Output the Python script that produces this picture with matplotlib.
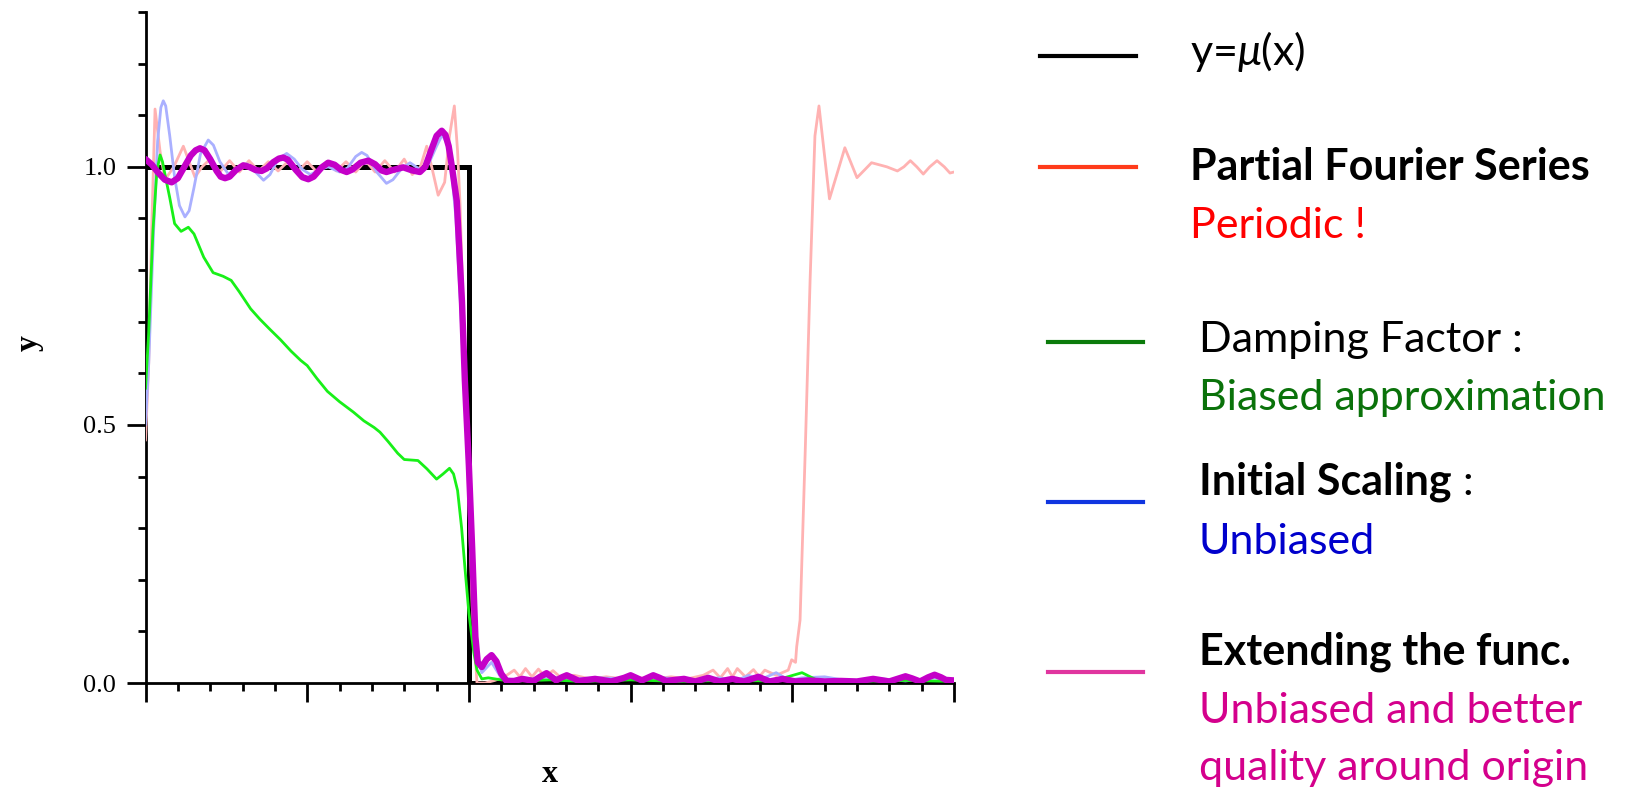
import matplotlib
matplotlib.use("Agg")
import numpy as np
import matplotlib.pyplot as plt
from matplotlib.lines import Line2D
from matplotlib.ticker import MultipleLocator, FixedLocator, FormatStrFormatter

# ---------------- data ----------------
mu_x = [0.0, 2.0, 2.0, 5.0]
mu_y = [1.0, 1.0, 0.0, 0.0]

fourier_x = [0.0, 0.02, 0.038, 0.059, 0.09, 0.12, 0.175, 0.234, 0.27, 0.306, 0.35, 0.40,
             0.46, 0.52, 0.58, 0.64, 0.70, 0.76, 0.82, 0.88, 0.94, 1.00, 1.06, 1.12,
             1.18, 1.24, 1.30, 1.36, 1.42, 1.48, 1.54, 1.60, 1.65, 1.70, 1.739, 1.77,
             1.81, 1.85, 1.88, 1.91, 1.93, 1.945, 1.965, 1.99, 2.02, 2.05, 2.10, 2.16,
             2.22, 2.28, 2.315, 2.35, 2.39, 2.43, 2.47, 2.52, 2.57, 2.65, 2.75, 2.85,
             2.95, 3.05, 3.15, 3.25, 3.35, 3.45, 3.51, 3.555, 3.60, 3.63, 3.66, 3.71,
             3.76, 3.795, 3.83, 3.90, 3.975, 3.996, 4.02, 4.027, 4.048, 4.08, 4.11,
             4.14, 4.165, 4.20, 4.23, 4.28, 4.325, 4.36, 4.40, 4.45, 4.49, 4.585,
             4.65, 4.69, 4.73, 4.77, 4.81, 4.85, 4.895, 4.94, 4.975, 5.0]
fourier_y = [0.47, 0.62, 0.876, 1.112, 1.03, 0.975, 1.0, 1.04, 1.01, 0.98, 1.0, 1.015,
             0.99, 1.012, 0.99, 1.012, 0.992, 1.01, 0.992, 1.01, 0.99, 1.01, 0.99, 1.01,
             0.992, 1.01, 0.99, 1.012, 0.99, 1.012, 0.99, 1.015, 0.985, 1.0, 1.04, 1.0,
             0.945, 0.97, 1.06, 1.118, 1.03, 0.93, 0.72, 0.45, 0.15, 0.0, 0.0, 0.005,
             0.012, 0.025, 0.012, 0.028, 0.012, 0.027, 0.012, 0.024, 0.01, 0.015, 0.008, 0.012,
             0.008, 0.01, 0.008, 0.012, 0.008, 0.015, 0.025, 0.01, 0.028, 0.012, 0.028, 0.012,
             0.026, 0.012, 0.025, 0.015, 0.025, 0.045, 0.04, 0.07, 0.122, 0.45, 0.78,
             1.06, 1.118, 1.02, 0.938, 0.99, 1.037, 1.01, 0.979, 0.995, 1.008, 1.0,
             0.992, 1.0, 1.012, 1.0, 0.986, 1.0, 1.012, 1.0, 0.988, 0.99]

scaling_x = [0.0, 0.02, 0.05, 0.075, 0.095, 0.11, 0.125, 0.15, 0.18, 0.21, 0.244, 0.27,
             0.30, 0.34, 0.388, 0.42, 0.46, 0.512, 0.56, 0.626, 0.68, 0.73, 0.77, 0.82,
             0.873, 0.92, 0.97, 1.02, 1.08, 1.13, 1.20, 1.25, 1.30, 1.337, 1.37, 1.43,
             1.49, 1.53, 1.58, 1.636, 1.697, 1.75, 1.80, 1.835, 1.865, 1.89, 1.92, 1.95,
             1.975, 2.0, 2.02, 2.05, 2.08, 2.14, 2.20, 2.30, 2.50, 2.62, 2.80, 3.00,
             3.20, 3.40, 3.55, 3.65, 3.73, 3.80, 3.90, 3.98, 4.06, 4.20, 4.35, 4.55,
             4.70, 4.88, 5.0]
scaling_y = [0.5, 0.62, 0.876, 1.05, 1.115, 1.128, 1.118, 1.06, 0.98, 0.925, 0.903, 0.915,
             0.96, 1.025, 1.052, 1.042, 1.01, 0.986, 0.996, 1.006, 0.99, 0.974, 0.985, 1.015,
             1.026, 1.015, 0.995, 0.985, 0.995, 1.0, 0.99, 0.998, 1.02, 1.028, 1.022, 0.99,
             0.968, 0.975, 0.995, 1.008, 0.995, 1.005, 1.04, 1.062, 1.045, 1.0, 0.9, 0.72,
             0.55, 0.38, 0.22, 0.05, 0.02, 0.04, 0.01, 0.005, 0.012, 0.008, 0.01, 0.008,
             0.01, 0.006, 0.01, 0.004, 0.015, 0.006, 0.02, 0.005, 0.01, 0.012, 0.004, 0.008,
             0.004, 0.01, 0.004]

damping_x = [0.0, 0.02, 0.046, 0.07, 0.09, 0.105, 0.12, 0.15, 0.18, 0.22, 0.265, 0.30,
             0.36, 0.418, 0.48, 0.53, 0.58, 0.65, 0.707, 0.77, 0.835, 0.90, 0.96, 1.0,
             1.06, 1.125, 1.20, 1.285, 1.35, 1.414, 1.45, 1.50, 1.56, 1.60, 1.685, 1.74,
             1.80, 1.84, 1.88, 1.905, 1.93, 1.955, 1.975, 2.0, 2.03, 2.05, 2.08, 2.12,
             2.20, 2.30, 2.50, 2.70, 3.00, 3.30, 3.60, 3.85, 3.95, 4.06, 4.15, 4.40,
             4.70, 5.0]
damping_y = [0.57, 0.68, 0.876, 0.99, 1.023, 1.01, 0.986, 0.94, 0.89, 0.875, 0.883, 0.87,
             0.825, 0.795, 0.788, 0.78, 0.758, 0.725, 0.705, 0.685, 0.665, 0.643, 0.625, 0.615,
             0.59, 0.565, 0.545, 0.525, 0.508, 0.495, 0.486, 0.468, 0.445, 0.433, 0.431, 0.415,
             0.395, 0.405, 0.416, 0.405, 0.373, 0.30, 0.225, 0.135, 0.06, 0.025, 0.008, 0.01,
             0.006, 0.004, 0.006, 0.003, 0.006, 0.003, 0.005, 0.004, 0.01, 0.02, 0.006, 0.003,
             0.005, 0.003]

extend_x = [0.0, 0.04, 0.08, 0.12, 0.162, 0.20, 0.24, 0.28, 0.31, 0.337, 0.365, 0.40,
            0.44, 0.465, 0.492, 0.52, 0.56, 0.605, 0.64, 0.68, 0.718, 0.75, 0.79, 0.825,
            0.852, 0.88, 0.93, 0.97, 1.007, 1.04, 1.09, 1.13, 1.17, 1.21, 1.244, 1.28,
            1.33, 1.378, 1.42, 1.46, 1.49, 1.53, 1.594, 1.65, 1.697, 1.73, 1.77, 1.80,
            1.832, 1.855, 1.875, 1.895, 1.925, 1.957, 1.975, 2.0, 2.02, 2.04, 2.055, 2.08,
            2.11, 2.14, 2.17, 2.20, 2.233, 2.28, 2.33, 2.40, 2.44, 2.48, 2.51, 2.54,
            2.575, 2.605, 2.64, 2.68, 2.78, 2.88, 2.96, 3.0, 3.035, 3.07, 3.105, 3.14,
            3.18, 3.22, 3.33, 3.40, 3.48, 3.55, 3.63, 3.70, 3.79, 3.86, 3.94, 4.02,
            4.10, 4.20, 4.30, 4.40, 4.50, 4.60, 4.66, 4.70, 4.74, 4.79, 4.84, 4.88,
            4.92, 4.95, 5.0]
extend_y = [1.015, 1.004, 0.988, 0.975, 0.970, 0.978, 1.0, 1.022, 1.032, 1.036, 1.032, 1.015,
            0.992, 0.981, 0.978, 0.981, 0.994, 1.003, 1.0, 0.994, 0.992, 0.997, 1.009, 1.016,
            1.018, 1.014, 0.994, 0.98, 0.976, 0.981, 0.999, 1.008, 1.004, 0.994, 0.990, 0.995,
            1.008, 1.012, 1.005, 0.993, 0.99, 0.994, 0.999, 0.993, 0.99, 1.0, 1.035, 1.06,
            1.07, 1.062, 1.04, 1.0, 0.934, 0.74, 0.586, 0.42, 0.263, 0.09, 0.04, 0.031,
            0.046, 0.054, 0.042, 0.018, 0.004, 0.004, 0.008, 0.004, 0.012, 0.019, 0.012, 0.005,
            0.011, 0.015, 0.01, 0.004, 0.008, 0.003, 0.01, 0.015, 0.01, 0.005, 0.01, 0.015,
            0.01, 0.004, 0.008, 0.003, 0.01, 0.003, 0.008, 0.003, 0.012, 0.003, 0.008, 0.003,
            0.005, 0.003, 0.004, 0.003, 0.008, 0.003, 0.009, 0.013, 0.009, 0.003, 0.011, 0.016,
            0.011, 0.006, 0.005]

y_ticks = [0.0, 0.5, 1.0]

legend_labels = ["y=$\\mu$(x)", "Partial Fourier Series", "Periodic !", "Damping Factor :",
                 "Biased approximation", "Initial Scaling", " :", "Unbiased",
                 "Extending the func.", "Unbiased and better", "quality around origin"]

# ---------------- figure ----------------
W, H = 1630, 789
plt.rcParams['mathtext.fontset'] = 'custom'
plt.rcParams['mathtext.rm'] = 'Lato'
plt.rcParams['mathtext.it'] = 'Lato:italic'
fig = plt.figure(figsize=(W / 100, H / 100), dpi=100)
ax = fig.add_axes([145.5 / W, 1 - 683 / H, (954 - 145.5) / W, (683 - 12) / H])

kw = dict(solid_joinstyle='round', solid_capstyle='round')
ax.plot(mu_x, mu_y, color='black', lw=3.6, zorder=3, solid_joinstyle='miter')
ax.plot(fourier_x, fourier_y, color='#ffb2b2', lw=2.0, zorder=4, **kw)
ax.plot(scaling_x, scaling_y, color='#aab0ff', lw=2.0, zorder=5, **kw)
ax.plot(damping_x, damping_y, color='#18f018', lw=2.0, zorder=6, **kw)
ax.plot(extend_x, extend_y, color='#c400c8', lw=4.6, zorder=7, **kw)

ax.set_xlim(0, 5)
ax.set_ylim(0, 1.3)
for s in ['top', 'right']:
    ax.spines[s].set_visible(False)
for s in ['left', 'bottom']:
    ax.spines[s].set_linewidth(2.0)

ax.xaxis.set_major_locator(MultipleLocator(1))
ax.xaxis.set_minor_locator(MultipleLocator(0.2))
ax.set_xticklabels([])
ax.yaxis.set_major_locator(FixedLocator(y_ticks))
ax.yaxis.set_minor_locator(FixedLocator(np.arange(0, 14) / 10))
ax.yaxis.set_major_formatter(FormatStrFormatter('%.1f'))
ax.tick_params(which='major', direction='out', length=14, width=2, pad=7)
ax.tick_params(which='minor', direction='out', length=6, width=2)
for lab in ax.get_yticklabels():
    lab.set_fontfamily('Liberation Serif')
    lab.set_fontsize(19)

fig.text(550 / W, 1 - 774 / H, 'x', family='Liberation Serif', weight='bold',
         fontsize=23, ha='center', va='center')
fig.text(29 / W, 1 - 343 / H, 'y', family='Liberation Serif', weight='bold',
         fontsize=23, ha='center', va='center', rotation=90)

# ---------------- legend-like annotation ----------------
def fx(px):
    return px / W

def fy(py):
    return 1 - py / H

leg_lines = [((1040, 1136), 56, '#000000'),
             ((1040, 1136), 167, '#ff3b1a'),
             ((1048, 1143), 342, '#0b7b0b'),
             ((1048, 1143), 502, '#1035e0'),
             ((1048, 1143), 672, '#e0359f')]
for (x0, x1), yy, c in leg_lines:
    fig.add_artist(Line2D([fx(x0), fx(x1)], [fy(yy), fy(yy)], color=c, lw=3.0,
                          transform=fig.transFigure))

fam = ['Lato', 'DejaVu Sans']
FS = 31
fig.text(fx(1190), fy(65), legend_labels[0], family=fam, fontsize=FS, va='baseline')
fig.text(fx(1190), fy(180), legend_labels[1], family=fam, fontsize=FS, weight='bold', va='baseline')
fig.text(fx(1190), fy(238), legend_labels[2], family=fam, fontsize=FS, color='#ff0000', va='baseline')
fig.text(fx(1199), fy(352), legend_labels[3], family=fam, fontsize=FS, va='baseline')
fig.text(fx(1199), fy(410), legend_labels[4], family=fam, fontsize=FS, color='#0a720a', va='baseline')
t_is = fig.text(fx(1199), fy(495), legend_labels[5], family=fam, fontsize=FS, weight='bold', va='baseline')
fig.canvas.draw()
bb = t_is.get_window_extent(fig.canvas.get_renderer())
fig.text(bb.x1 / W, fy(495), legend_labels[6], family=fam, fontsize=FS, va='baseline')
fig.text(fx(1199), fy(554), legend_labels[7], family=fam, fontsize=FS, color='#0000cc', va='baseline')
fig.text(fx(1199), fy(665), legend_labels[8], family=fam, fontsize=FS, weight='bold', va='baseline')
fig.text(fx(1199), fy(723), legend_labels[9], family=fam, fontsize=FS, color='#d4008c', va='baseline')
fig.text(fx(1199), fy(780), legend_labels[10], family=fam, fontsize=FS, color='#d4008c', va='baseline')

fig.savefig('out.png', dpi=100)
